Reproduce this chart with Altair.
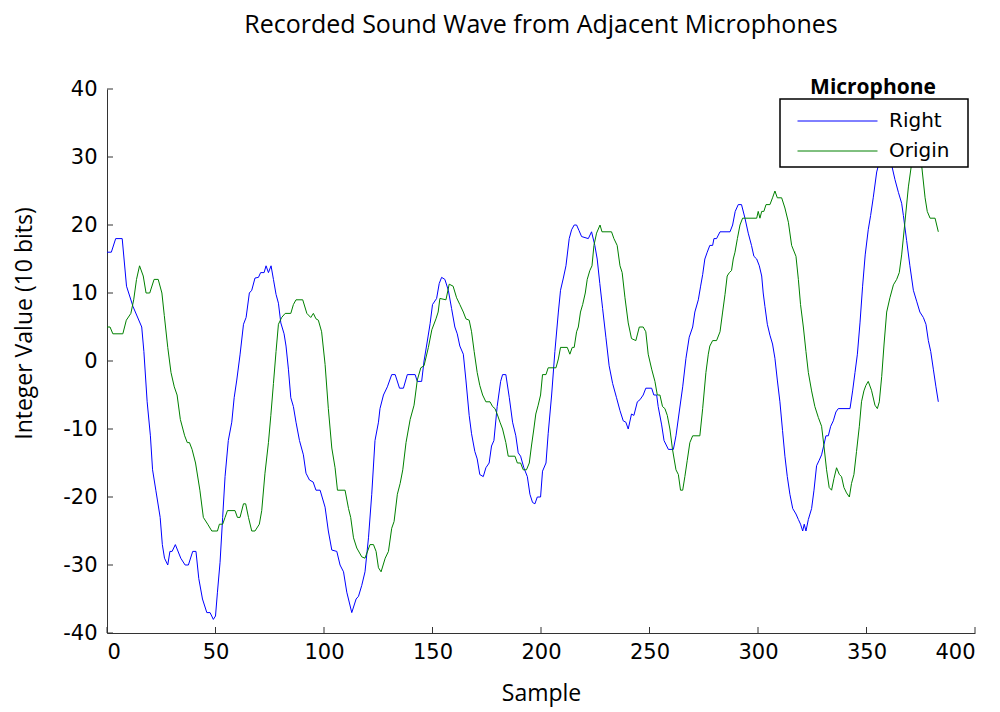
import altair as alt
import pandas as pd

# ---- data (sample index, integer value) ----
right_sample = [0, 2, 4, 7, 9, 12, 16, 17, 18.5, 20, 21, 22.5, 24.5, 25.5, 26.5, 28, 29, 30, 31.5, 34,
                36, 37.5, 39.5, 41, 42.3, 44, 46, 47.5, 49, 50, 50.9, 52.1, 53.3, 54.4, 55.9, 57.5, 58.6,
                59.8, 61.3, 62.9, 64.1, 65.6, 66.7, 68.2, 69.8, 70.8, 72.4, 73.3, 74.4, 75.6, 76.7, 77.9,
                79, 80.1, 81.6, 82.5, 83.6, 84.7, 85.9, 87.1, 88.7, 90.5, 91.7, 93.3, 95, 96.3, 98.2,
                100.5, 102, 103.6, 105.9, 107.4, 109, 110.5, 112.8, 114.8, 115.9, 117.4, 118.9, 120.5,
                122, 123.5, 125.1, 125.8, 127.4, 129.2, 131.2, 132.8, 134.8, 136.6, 138.4, 142, 143, 145,
                146.1, 147.4, 148.9, 150, 151.9, 153.1, 154.2, 155.7, 157.3, 158.8, 160.3, 161.4, 162.6,
                164.2, 165.4, 166.9, 168, 169.5, 170.6, 171.8, 173.4, 174.6, 176.1, 177.2, 178.3, 179.8,
                181.4, 182.3, 183.8, 185.4, 186.9, 188.4, 189.5, 190.6, 192.1, 193.7, 194.9, 196.1, 197.2,
                198.3, 199.8, 200.7, 202.3, 203.3, 204.9, 206.4, 208, 209, 210.3, 211.5, 213, 214.1, 215.3,
                216.4, 217.5, 218.7, 221.8, 223.3, 224.8, 225.9, 227.1, 228.4, 229.9, 231.4, 233, 234.8,
                236.4, 237.9, 239.1, 240.2, 241.7, 242.8, 244.4, 245.6, 247.1, 248.3, 251, 252, 253.3, 254,
                255.6, 256.7, 258.7, 261, 262.2, 263.7, 265.3, 266.8, 268.3, 269.9, 270.9, 272.5, 273.5,
                274.5, 275.5, 276.6, 277.8, 279.1, 279.7, 280.9, 282.5, 287.1, 288.3, 289.5, 290.9, 292.4,
                294, 295.5, 297, 298.1, 299.4, 300.6, 301.7, 302.4, 303.2, 304.3, 305.5, 306.7, 307.8,
                308.9, 310.1, 311.3, 312.4, 313.5, 314.7, 316, 317.5, 318.6, 319.6, 320.6, 321.3, 322.1,
                323.2, 324.7, 325.8, 327, 328.2, 329.3, 330.4, 331.3, 332.4, 333.5, 334.7, 335.9, 337,
                342.4, 343.6, 344.7, 345.8, 347, 348.2, 349.4, 350.8, 351.9, 353.1, 354.7, 356.5, 358, 360,
                361.6, 363.1, 364.7, 366.2, 367, 368.5, 370, 371.6, 373.1, 374.6, 376.2, 377.4, 378.5,
                379.6, 380.8, 382, 383.1]
right_value = [16, 16, 18, 18, 11, 8, 5, 1.4, -6, -11, -16, -19, -23, -27, -29, -30, -28, -28, -27, -29,
               -30, -30, -28, -28, -32, -35, -37, -37, -38, -37.5, -34, -29.6, -23, -17, -11.7, -9, -5.4,
               -2.8, 0.9, 5.4, 6.4, 10, 10.4, 12.2, 12.3, 13, 13, 14, 13, 14, 12, 9.8,
               8.5, 5.6, 4, 2.2, -1.2, -5.4, -6.7, -9, -11.7, -13.8, -16.5, -17.5, -17.8, -19, -19,
               -21.5, -25, -27.8, -28, -30, -31, -34, -37, -35, -34.6, -33, -31, -26,
               -19.6, -11.7, -9, -7, -5, -3.8, -2, -2, -4, -4, -2, -2, -3, -3,
               0, 2.5, 5.5, 8.3, 9.2, 11.4, 12.3, 12, 10.4, 7.7, 5, 4, 2.2,
               1, -2.8, -8, -10.7, -13.3, -14.4, -16.7, -17, -15.7, -15, -12.5, -11.7, -6.7,
               -3, -2, -2, -5.4, -9, -11, -13.5, -14, -15.7, -17, -19.6, -20.8, -21,
               -20, -20, -16.2, -15, -10.7, -5, 1.4, 7.2, 10.4, 12.2, 14, 18, 19.3, 20,
               20, 19.2, 18.3, 18, 19, 17, 15, 11.4, 7.7, 3.5, -0.7, -3.3, -5.4,
               -7.3, -8.8, -9, -10, -7.8, -8, -6, -5.7, -5, -4, -4, -5, -5, -6.7,
               -9.4, -11.7, -13, -13, -11, -7.5, -3.8, 0.4, 3.5, 5, 7.2, 9, 10.9,
               12.7, 15, 16, 17, 17, 18, 18, 19, 19, 20, 22, 23, 23,
               21, 18.8, 17, 15.4, 15, 14, 12.5, 10, 8, 5.4, 3.8, 2.5, 0.4,
               -2.8, -6, -10.2, -14, -17, -19.6, -21.7, -22.5, -23.3, -24, -25, -24, -25,
               -23.3, -21.7, -19, -15.4, -14.6, -13.8, -12.3, -11, -11, -9.6, -8.8, -7.5, -7,
               -7, -4.4, -1.7, 1, 5.6, 11, 15.6, 19.3, 21.4, 24, 27.8, 30, 31, 30.5,
               28.8, 26.7, 24.8, 23.2, 21.4, 17.7, 14, 10.4, 8.8, 7.2, 6.4, 5.4, 3,
               1.4, -1.2, -3.8, -6]

origin_sample = [0, 1.4, 2.7, 7.3, 8.9, 11, 12.3, 13.6, 15, 16.7, 18, 19.7, 21.7, 23.6, 25.3, 26.4, 28,
                 29.5, 31, 32.3, 33.8, 35.8, 37, 38, 39.2, 40.8, 42.8, 44.4, 46.4, 48.3, 50.9, 51.8, 53.3,
                 54.4, 55.5, 59, 60.1, 61.3, 62.9, 63.9, 65.2, 66.7, 68.2, 70.2, 71.3, 72.8, 74.4, 75.5,
                 76.7, 77.9, 79, 80.5, 82.1, 84.7, 85.9, 87.1, 90.2, 92.1, 93.9, 95.1, 96.3, 97.4, 98.9,
                 100.5, 102, 103.6, 105.1, 106.2, 109.7, 111.3, 112.3, 113.6, 115.1, 117.4, 118.9, 121.2,
                 122.8, 124, 125.1, 126.3, 128.2, 129.7, 131.2, 132.3, 133.8, 135.1, 136.3, 137.8, 139.7,
                 141.5, 143, 144.6, 146.1, 148.1, 149.7, 151.6, 152.6, 153.4, 156.2, 157.7, 159.5, 161.1,
                 162.6, 164.2, 165.4, 166.9, 168, 169.2, 170.6, 171.8, 173.1, 174.6, 176.5, 177.7, 178.8,
                 179.8, 181.1, 182.3, 183.8, 184.9, 188, 189.1, 190.6, 191.8, 193.3, 194.6, 195.6, 196.7,
                 197.6, 198.7, 199.8, 200.7, 202.3, 203.3, 206.9, 208, 209, 212.1, 213.3, 214.4, 215.3,
                 216.4, 217.2, 218.2, 219.2, 220.4, 221.3, 222.5, 223.5, 224.4, 225.6, 227.2, 228.1, 232.5,
                 233.6, 235.1, 236.4, 237.4, 238.7, 240.2, 241.7, 243.7, 245.3, 247.1, 248.3, 249.4, 251,
                 252.5, 253.6, 254.8, 256, 257.1, 258.2, 259.4, 260.6, 262.2, 263.3, 264.3, 265.3, 266.3,
                 267.4, 268.6, 269.9, 273.2, 274.5, 276, 277.1, 277.8, 279.1, 280.9, 282.5, 283.7, 284.8,
                 285.8, 286.8, 287.8, 288.6, 289.4, 290.5, 291.7, 292.9, 299.4, 300.1, 300.9, 301.7, 302.7,
                 303.7, 305.5, 306.7, 307.8, 308.9, 310.9, 312.4, 314, 315.5, 317.5, 318.6, 319.6, 320.9,
                 322.1, 323.2, 324.7, 326.2, 327.8, 329.3, 330.4, 331.6, 332.8, 333.9, 335, 336.2, 337.5,
                 338.5, 339.6, 340.8, 342.1, 343.1, 344.2, 345.4, 346.7, 347.7, 348.8, 349.7, 350.8, 352.3,
                 353.9, 355, 355.9, 357, 358.1, 359.3, 360.8, 362.4, 363.9, 365.1, 366.2, 367.7, 369.3,
                 371, 373, 375.4, 377, 378, 379.3, 381.6, 383.1]
origin_value = [5, 5, 4, 4, 6, 7, 9, 12, 14, 12.5, 10, 10, 12, 12, 10, 6.7, 2,
                -1.7, -3.8, -5, -8.6, -11, -12, -12, -13, -15, -19, -23, -24, -25, -25, -24, -24,
                -23, -22, -22, -23, -23, -21, -21, -23, -25, -25, -24, -22, -16.5, -12, -8,
                -3.3, 1.4, 5.4, 6.4, 7, 7, 8.3, 9, 9, 7, 6.4, 7, 6.2, 6, 4.3,
                -0.5, -7, -12.8, -15.7, -19, -19, -21.7, -23, -26, -27.5, -28.8, -29, -27,
                -27, -28, -30.4, -31, -29, -28, -24.6, -23.6, -19.6, -18, -16, -12, -8.6,
                -6.5, -2.8, -1, -0.7, 2, 4.6, 6.2, 7.2, 9.2, 9, 11.3, 11, 9.3,
                8.3, 7.2, 6.2, 6, 4.3, 1.4, -1.7, -3.6, -5, -6, -6, -6.7, -7,
                -7.8, -9, -10, -12, -14, -14, -15, -15, -16, -16, -15, -12.5, -10,
                -7.8, -6.5, -5, -2, -2, -1, -1, 0.3, 2, 2, 1, 2, 2,
                4.3, 5, 7.2, 8.3, 10, 12, 13.3, 14, 17, 18.8, 20, 19, 19,
                18, 17, 14, 13, 9.3, 5.6, 3.3, 3, 5, 5, 4.3, 1, -1.2,
                -3, -5, -5, -6.7, -7, -8, -10, -13, -16, -16.7, -19, -19, -17,
                -14.6, -12, -11, -11, -7, -1.7, 1, 2.2, 3, 3, 4.3, 7.2, 9.8,
                12.5, 13, 13.3, 15, 16, 18, 20, 21, 21, 22, 21, 22, 22,
                23, 23, 24, 25, 24, 24, 22.5, 20.4, 17, 15.4, 12, 8.3, 5,
                1.4, -1.7, -4.4, -6.7, -8.3, -9.6, -12.5, -16, -18.6, -19, -17.3, -15.7, -16.7,
                -17, -18.6, -19.4, -20, -18, -16.7, -13.3, -9.6, -6, -4.4, -3.6, -3, -4.3,
                -6.5, -7, -6, -2.3, 2.5, 7.2, 9.3, 11.2, 12, 13, 15.6, 20.4, 25.6,
                29.5, 31, 28.8, 24, 22, 21, 21, 19]

series_names = ["Right", "Origin"]
series_colors = ["#0000FF", "#008000"]
y_ticks = [-40, -30, -20, -10, 0, 10, 20, 30, 40]
x_ticks = [0, 50, 100, 150, 200, 250, 300, 350, 400]

W, H = 868, 544

df = pd.concat([
    pd.DataFrame({"Sample": right_sample, "Value": right_value, "Microphone": "Right"}),
    pd.DataFrame({"Sample": origin_sample, "Value": origin_value, "Microphone": "Origin"}),
], ignore_index=True)

xscale = alt.Scale(domain=[0, 400], nice=False, zero=False)
yscale = alt.Scale(domain=[-40, 40], nice=False, zero=False)

lines = alt.Chart(df).mark_line(strokeWidth=1, clip=True).encode(
    x=alt.X("Sample:Q", scale=xscale,
            axis=alt.Axis(values=x_ticks, title="Sample", ticks=False, tickSize=0, grid=False,
                          labelExpr="'' + datum.value",
                          labelFont="DejaVu Sans", labelFontSize=21, labelColor="black",
                          labelPadding=8, domainColor="#333333",
                          titleFont="Open Sans", titleFontSize=23, titleFontWeight="normal",
                          titleColor="black", titlePadding=20)),
    y=alt.Y("Value:Q", scale=yscale,
            axis=alt.Axis(values=y_ticks, title="Integer Value (10 bits)", ticks=False, tickSize=0,
                          grid=False, labelExpr="'' + datum.value",
                          labelFont="DejaVu Sans", labelFontSize=21, labelColor="black",
                          labelPadding=10, domainColor="#333333",
                          titleFont="Open Sans", titleFontSize=23, titleFontWeight="normal",
                          titleColor="black", titleX=-76, titleY=234, titleBaseline="alphabetic")),
    color=alt.Color("Microphone:N", sort=series_names,
                    scale=alt.Scale(domain=series_names, range=series_colors),
                    legend=alt.Legend(orient="none", legendX=690, legendY=-12, direction="vertical",
                                      title="Microphone", titleFont="Open Sans", titleFontSize=21,
                                      titleFontWeight="bold", titleColor="black", titleAnchor="middle",
                                      titlePadding=8, symbolType="stroke", symbolSize=6400,
                                      symbolStrokeWidth=1, clipHeight=30, labelFont="DejaVu Sans",
                                      labelFontSize=20, labelColor="black", labelOffset=11,
                                      padding=0, rowPadding=0)),
    order=alt.Order("Sample:Q"),
)

box = alt.Chart(pd.DataFrame({"k": [0]})).mark_rect(fill="white", stroke="black", strokeWidth=1.5).encode(
    x=alt.value(673), x2=alt.value(861), y=alt.value(10), y2=alt.value(78)
)

ytick_df = pd.DataFrame({"t": y_ticks})
yticks = alt.Chart(ytick_df).mark_rule(color="#333333", strokeWidth=1).encode(
    y=alt.Y("t:Q", scale=yscale), x=alt.value(0), x2=alt.value(6)
)
xtick_df = pd.DataFrame({"t": x_ticks})
xticks = alt.Chart(xtick_df).mark_rule(color="#333333", strokeWidth=1).encode(
    x=alt.X("t:Q", scale=xscale), y=alt.value(H), y2=alt.value(H - 6)
)

chart = alt.layer(lines, box, yticks, xticks).properties(
    width=W, height=H,
    background="white",
    title=alt.TitleParams("Recorded Sound Wave from Adjacent Microphones", font="Open Sans",
                          fontSize=25, fontWeight="normal", color="black", anchor="middle",
                          frame="group", baseline="bottom", offset=14),
    autosize=alt.AutoSizeParams(type="none"),
    padding={"left": 99, "top": 81, "right": 17, "bottom": 75},
).configure_view(stroke="transparent", strokeWidth=0)

chart.save("out.html", embed_options={"renderer": "svg", "actions": False})
